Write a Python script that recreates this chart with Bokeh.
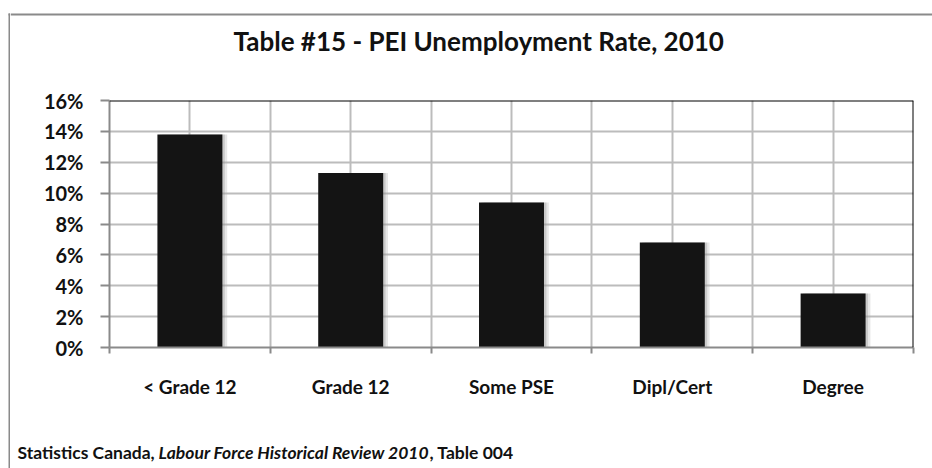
from bokeh.plotting import figure
from bokeh.layouts import column, row
from bokeh.models import (FixedTicker, NumeralTickFormatter, Span, Range1d, Label)
from bokeh.embed import file_html
from bokeh.resources import INLINE

# ---- data ----
categories = ["< Grade 12", "Grade 12", "Some PSE", "Dipl/Cert", "Degree"]
rates = [0.138, 0.113, 0.094, 0.068, 0.035]
y_ticks = [0.0, 0.02, 0.04, 0.06, 0.08, 0.10, 0.12, 0.14, 0.16]
title_text = "Table #15 - PEI Unemployment Rate, 2010"
source_parts = ["Statistics Canada,", "Labour Force Historical Review 2010", ", Table 004"]
source_styles = ["bold", "bold italic", "bold"]

centers = [i + 0.5 for i in range(len(categories))]
bounds = [float(i) for i in range(len(categories) + 1)]

W, H = 932, 468
SIDE_W = 10                      # strip on the left holding the chart border
CW = W - SIDE_W                  # width of the chart column
HEAD_H = 70
FOOT_H = 28
MAIN_H = H - HEAD_H - FOOT_H
FL, FT, FR, FB = 109, 100, 913, 347   # frame edges in window px
GRAY = "#8a8a8a"
GRID = "#bcbcbc"
FONT = "Lato"
TXT = "#111111"
BORDER_TOP = 14                  # centre of the 2px outer border line
BORDER_LEFT = 9


def strip(width, height):
    # plain drawing strip whose frame fills it; ranges are pixels from top-left
    s = figure(width=width, height=height, output_backend="svg", toolbar_location=None,
               x_range=Range1d(0, width), y_range=Range1d(height, 0),
               min_border_left=0, min_border_right=0, min_border_top=0, min_border_bottom=0)
    s.axis.visible = False
    s.grid.visible = False
    s.outline_line_color = None
    s.background_fill_color = "white"
    s.border_fill_color = "white"
    s.frame_align = False
    return s


# left strip: left edge of the outer chart border
side = strip(SIDE_W, H)
side.segment(x0=[BORDER_LEFT], y0=[BORDER_TOP - 1], x1=[BORDER_LEFT], y1=[H],
             line_color=GRAY, line_width=2)
side.segment(x0=[BORDER_LEFT - 1], y0=[BORDER_TOP], x1=[SIDE_W], y1=[BORDER_TOP],
             line_color=GRAY, line_width=2)

# header strip: top edge of the border and the chart title
head = strip(CW, HEAD_H)
head.add_layout(Span(location=BORDER_TOP, dimension="width", line_color=GRAY, line_width=2))
head.add_layout(Label(x=233 - SIDE_W, y=HEAD_H - 51 + 11, x_units="screen", y_units="screen",
                      text=title_text, text_font=FONT, text_font_style="bold",
                      text_font_size="26px", text_color=TXT,
                      text_baseline="alphabetic", text_align="left"))

# main chart
p = figure(width=CW, height=MAIN_H, output_backend="svg", toolbar_location=None,
           x_range=Range1d(0, len(categories)), y_range=Range1d(0, 0.16),
           min_border_left=FL - SIDE_W, min_border_right=W - FR,
           min_border_top=FT - HEAD_H, min_border_bottom=HEAD_H + MAIN_H - FB)
p.frame_align = False
p.outline_line_color = None
p.background_fill_color = "white"
p.border_fill_color = "white"

# grids
p.xgrid.ticker = FixedTicker(ticks=centers, minor_ticks=bounds)
p.xgrid.grid_line_color = GRID
p.xgrid.grid_line_width = 2
p.xgrid.minor_grid_line_color = GRID
p.xgrid.minor_grid_line_width = 2
p.ygrid.ticker = FixedTicker(ticks=y_ticks)
p.ygrid.grid_line_color = GRID
p.ygrid.grid_line_width = 2

# bar shadows
p.vbar(x=[c + 0.03 for c in centers], top=rates, bottom=-0.0012, width=0.404,
       fill_color="#b0b0b0", fill_alpha=0.3, line_color=None)
p.vbar(x=[c + 0.015 for c in centers], top=rates, bottom=-0.0006, width=0.404,
       fill_color="#888888", fill_alpha=0.3, line_color=None)
# bars
p.vbar(x=centers, top=rates, width=0.404, fill_color="#141414", line_color=None)

# top and right frame lines
p.add_layout(Span(location=0.16, dimension="width", line_color="black", line_width=2))
p.add_layout(Span(location=len(categories), dimension="height", line_color="black", line_width=2))

# x axis
xa = p.xaxis[0]
xa.ticker = FixedTicker(ticks=centers, minor_ticks=bounds)
xa.major_label_overrides = {c: cat for c, cat in zip(centers, categories)}
xa.axis_line_color = GRAY
xa.axis_line_width = 2
xa.major_tick_line_color = None
xa.major_tick_out = 0
xa.major_tick_in = 0
xa.minor_tick_line_color = GRAY
xa.minor_tick_line_width = 2
xa.minor_tick_out = 6
xa.minor_tick_in = 0
xa.major_label_text_font = FONT
xa.major_label_text_font_style = "bold"
xa.major_label_text_font_size = "19px"
xa.major_label_text_color = TXT
xa.major_label_standoff = 21

# y axis
ya = p.yaxis[0]
ya.ticker = FixedTicker(ticks=y_ticks)
ya.formatter = NumeralTickFormatter(format="0%")
ya.axis_line_color = GRAY
ya.axis_line_width = 2
ya.major_tick_line_color = GRAY
ya.major_tick_line_width = 2
ya.major_tick_out = 9
ya.major_tick_in = 0
ya.minor_tick_line_color = None
ya.major_label_text_font = FONT
ya.major_label_text_font_style = "bold"
ya.major_label_text_font_size = "20px"
ya.major_label_text_color = TXT
ya.major_label_standoff = 17

# footer strip holding the source line
foot = strip(CW, FOOT_H)
xs = [17, 158, 429]
for txt, st, x in zip(source_parts, source_styles, xs):
    foot.add_layout(Label(x=x - SIDE_W, y=H - 459 + 7, x_units="screen", y_units="screen",
                          text=txt, text_font=FONT, text_font_style=st, text_font_size="17.5px",
                          text_color=TXT, text_baseline="alphabetic", text_align="left"))

layout = row(side, column(head, p, foot, spacing=0), spacing=0)

open("out.html", "w").write(file_html(layout, INLINE))
